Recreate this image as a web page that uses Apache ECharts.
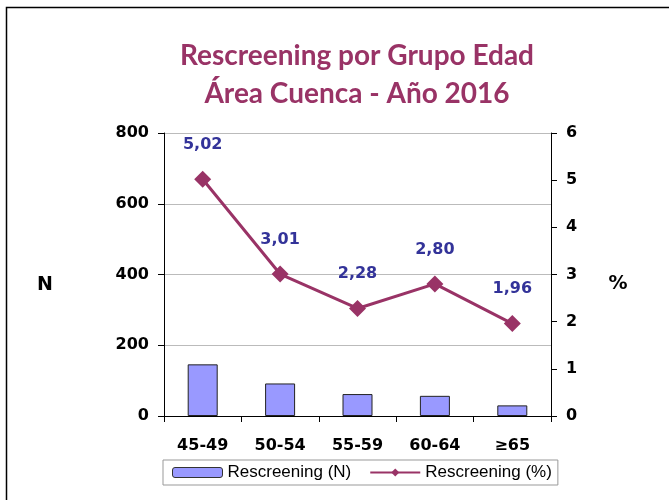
<!DOCTYPE html>
<html>
<head>
<meta charset="utf-8">
<script src="https://cdn.jsdelivr.net/npm/echarts@6/dist/echarts.min.js"></script>
<style>
  html, body { margin: 0; padding: 0; background: #fff; }
</style>
</head>
<body>
<div id="chart" style="width: 669px; height: 500px;"></div>
<script>
// grupos de edad
var categories = ["45-49", "50-54", "55-59", "60-64", "≥65"];
// Rescreening (N)
var rescreeningN = [146, 92, 62, 57, 30];
// Rescreening (%)
var rescreeningPct = [5.02, 3.01, 2.28, 2.80, 1.96];

var chart = echarts.init(document.getElementById("chart"));

var labelFont = "'DejaVu Sans', Verdana, sans-serif";
var boldLabel = { color: "#000", fontFamily: labelFont, fontWeight: "bold", fontSize: 16 };

var option = {
  animation: false,
  title: {
    text: "Rescreening por Grupo Edad\nÁrea Cuenca - Año 2016",
    left: 352,
    top: 32,
    textAlign: "center",
    textStyle: {
      color: "#993366",
      fontFamily: "Lato, 'Open Sans', sans-serif",
      fontWeight: "bold",
      fontSize: 28,
      lineHeight: 38
    }
  },
  graphic: [
    {
      type: "rect",
      shape: { x: 6.5, y: 7.5, width: 700, height: 520 },
      style: { fill: "none", stroke: "#000", lineWidth: 1.5 },
      silent: true
    },
    // titulos de los ejes
    {
      type: "text",
      x: 45, y: 285,
      style: { text: "N", fill: "#000", font: "bold 19px " + labelFont, align: "center", verticalAlign: "middle" },
      silent: true
    },
    {
      type: "text",
      x: 618, y: 284,
      style: { text: "%", fill: "#000", font: "bold 19px " + labelFont, align: "center", verticalAlign: "middle" },
      silent: true
    }
  ],
  grid: { left: 164, right: 118, top: 133, bottom: 84 },
  legend: {
    left: 163,
    top: 460,
    itemGap: 18,
    padding: [4, 6, 4, 9],
    borderColor: "#999",
    borderWidth: 1,
    textStyle: { color: "#000", fontFamily: "Arial, 'Liberation Sans'", fontSize: 17 },
    data: [
      { name: "Rescreening (N)", itemStyle: { borderColor: "#333", borderWidth: 1 } },
      { name: "Rescreening (%)" }
    ],
    itemWidth: 50,
    itemHeight: 10
  },
  xAxis: {
    type: "category",
    data: categories,
    axisLine: { lineStyle: { color: "#000", width: 1 } },
    axisTick: { show: true, length: 6, lineStyle: { color: "#000" } },
    axisLabel: Object.assign({ margin: 22 }, boldLabel)
  },
  yAxis: [
    {
      type: "value",
      min: 0,
      max: 800,
      interval: 200,
      axisLine: { show: true, lineStyle: { color: "#000" } },
      axisTick: { show: true, length: 6, lineStyle: { color: "#000" } },
      axisLabel: Object.assign({ margin: 15 }, boldLabel),
      splitLine: { lineStyle: { color: "#bbb", width: 1 } }
    },
    {
      type: "value",
      min: 0,
      max: 6,
      interval: 1,
      axisLine: { show: true, lineStyle: { color: "#000" } },
      axisTick: { show: true, length: 6, lineStyle: { color: "#000" } },
      axisLabel: Object.assign({ margin: 15 }, boldLabel),
      splitLine: { show: false }
    }
  ],
  series: [
    {
      name: "Rescreening (N)",
      type: "bar",
      yAxisIndex: 0,
      barWidth: 30,
      itemStyle: { color: "#9999FF", borderColor: "#222", borderWidth: 1 },
      data: rescreeningN
    },
    {
      name: "Rescreening (%)",
      type: "line",
      yAxisIndex: 1,
      symbol: "diamond",
      symbolSize: 17,
      lineStyle: { color: "#993366", width: 3 },
      itemStyle: { color: "#993366" },
      label: {
        show: true,
        position: "top",
        distance: 18,
        color: "#333399",
        fontFamily: labelFont,
        fontWeight: "bold",
        fontSize: 16,
        formatter: function (p) { return p.value.toFixed(2).replace(".", ","); }
      },
      data: rescreeningPct
    }
  ]
};

chart.setOption(option);
window.onresize = chart.resize;
</script>
</body>
</html>
